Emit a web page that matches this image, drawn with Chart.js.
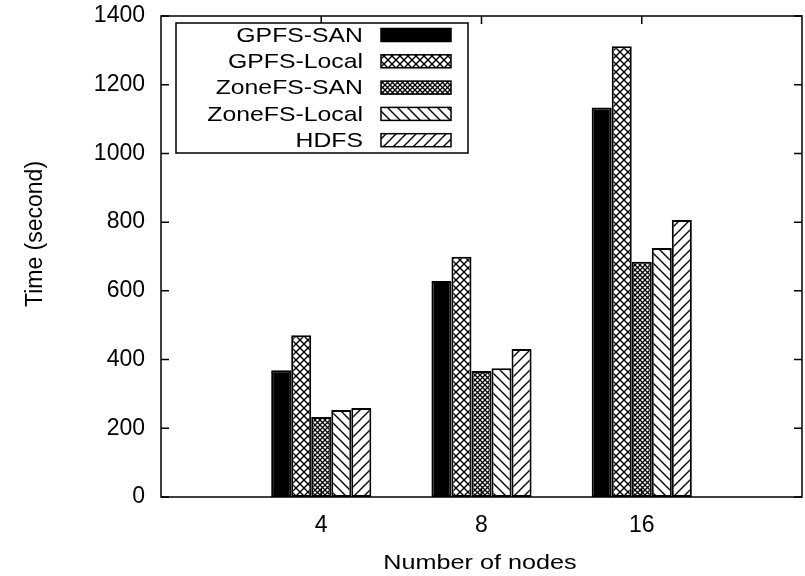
<!DOCTYPE html>
<html>
<head>
<meta charset="utf-8">
<script src="https://cdn.jsdelivr.net/npm/chart.js@4/dist/chart.umd.min.js"></script>
<style>
  html, body { margin: 0; padding: 0; background: #fff; }
  #wrap { width: 805px; height: 576px; }
</style>
</head>
<body>
<div id="wrap"><canvas id="timeChart" width="805" height="576"></canvas></div>
<script>
// node counts (empty slots pad the axis on both sides, like gnuplot)
const nodeLabels = ["", "4", "8", "16", ""];
const seriesNames = ["GPFS-SAN", "GPFS-Local", "ZoneFS-SAN", "ZoneFS-Local", "HDFS"];
const gpfsSan = [null, 369, 629, 1134, null];
const gpfsLocal = [null, 471, 699, 1312, null];
const zonefsSan = [null, 233, 367, 685, null];
const zonefsLocal = [null, 253, 375, 725, null];
const hdfs = [null, 259, 431, 806, null];
const yTicks = [0, 200, 400, 600, 800, 1000, 1200, 1400];
const xTitle = "Number of nodes";
const yTitle = "Time (second)";

const FONT = "'Liberation Sans', Arial, Helvetica, sans-serif";

// fill patterns roughly like the gnuplot ones
function makePattern(kind) {
    const c = document.createElement("canvas");
    const s = kind === "dense" ? 5 : (kind === "cross" ? 8 : 10);
    c.width = s; c.height = s;
    const g = c.getContext("2d");
    g.fillStyle = "#fff";
    g.fillRect(0, 0, s, s);
    g.strokeStyle = "#000";
    g.lineWidth = kind === "dense" ? 1.3 : 1.4;
    g.beginPath();
    if (kind === "cross" || kind === "dense") {
        g.moveTo(0, 0); g.lineTo(s, s);
        g.moveTo(s, 0); g.lineTo(0, s);
    } else if (kind === "back") {
        g.moveTo(-1, -1); g.lineTo(s + 1, s + 1);
        g.moveTo(-1, s - 1); g.lineTo(1, s + 1);
        g.moveTo(s - 1, -1); g.lineTo(s + 1, 1);
    } else {
        g.moveTo(-1, s + 1); g.lineTo(s + 1, -1);
        g.moveTo(-1, 1); g.lineTo(1, -1);
        g.moveTo(s - 1, s + 1); g.lineTo(s + 1, s - 1);
    }
    g.stroke();
    return g.createPattern(c, "repeat");
}

const fills = ["#000", makePattern("cross"), makePattern("dense"), makePattern("back"), makePattern("fwd")];
const seriesData = [gpfsSan, gpfsLocal, zonefsSan, zonefsLocal, hdfs];

// draw text a bit wider, the reference looks horizontally stretched
function wideText(ctx, text, x, y, sx) {
    ctx.save();
    ctx.translate(x, y);
    ctx.scale(sx, 1);
    ctx.fillText(text, 0, 0);
    ctx.restore();
}

// frame, inward ticks, axis titles and the boxed legend
const gnuplotFrame = {
    id: "gnuplotFrame",
    afterDraw(chart) {
        const ctx = chart.ctx;
        const a = chart.chartArea;
        const xs = chart.scales.x, ys = chart.scales.y;
        ctx.save();
        ctx.strokeStyle = "#000";
        ctx.lineWidth = 1.5;
        ctx.strokeRect(a.left, a.top, a.right - a.left, a.bottom - a.top);
        ctx.beginPath();
        yTicks.forEach(v => {
            const y = ys.getPixelForValue(v);
            ctx.moveTo(a.left, y); ctx.lineTo(a.left + 8, y);
            ctx.moveTo(a.right, y); ctx.lineTo(a.right - 8, y);
        });
        [1, 2, 3].forEach(i => {
            const x = xs.getPixelForValue(i);
            ctx.moveTo(x, a.bottom); ctx.lineTo(x, a.bottom - 8);
            ctx.moveTo(x, a.top); ctx.lineTo(x, a.top + 8);
        });
        ctx.stroke();

        // axis titles
        ctx.fillStyle = "#000";
        ctx.textAlign = "center";
        ctx.textBaseline = "middle";
        ctx.font = "21px " + FONT;
        wideText(ctx, xTitle, 480, 563, 1.2);
        ctx.save();
        ctx.translate(36, 234);
        ctx.rotate(-Math.PI / 2);
        ctx.font = "23px " + FONT;
        ctx.fillText(yTitle, 0, 0);
        ctx.restore();

        // legend box
        ctx.fillStyle = "#fff";
        ctx.fillRect(176, 23, 292, 130);
        ctx.strokeRect(176, 23, 292, 130);
        ctx.font = "21px " + FONT;
        ctx.textAlign = "right";
        seriesNames.forEach((name, i) => {
            const y = 35 + i * 26.3;
            ctx.fillStyle = "#000";
            wideText(ctx, name, 363, y + 1, 1.18);
            ctx.fillStyle = fills[i];
            ctx.fillRect(381, y - 6.5, 70, 13);
            ctx.strokeRect(381, y - 6.5, 70, 13);
        });
        ctx.restore();
    }
};

const ctx = document.getElementById("timeChart").getContext("2d");
new Chart(ctx, {
    type: "bar",
    data: {
        labels: nodeLabels,
        datasets: seriesNames.map((name, i) => ({
            label: name,
            data: seriesData[i],
            backgroundColor: fills[i],
            borderColor: "#000",
            borderWidth: 2,
            borderSkipped: false,
            barPercentage: 1,
            categoryPercentage: 0.625
        }))
    },
    options: {
        responsive: false,
        animation: false,
        layout: { padding: { left: 0, top: 16, right: 3, bottom: 0 } },
        plugins: {
            legend: { display: false },
            tooltip: { enabled: false }
        },
        scales: {
            x: {
                offset: false,
                grid: { display: false, drawTicks: false },
                border: { display: false },
                ticks: {
                    color: "#000",
                    padding: 15,
                    maxRotation: 0,
                    autoSkip: false,
                    font: { family: FONT, size: 23 }
                },
                afterFit(scale) {
                    scale.height = 79;
                    scale.paddingLeft = 0;
                    scale.paddingRight = 0;
                }
            },
            y: {
                min: 0,
                max: 1400,
                grid: { display: false, drawTicks: false },
                border: { display: false },
                ticks: {
                    stepSize: 200,
                    color: "#000",
                    padding: 16,
                    font: { family: FONT, size: 23 },
                    callback: v => String(v)
                },
                afterFit(scale) {
                    scale.width = 161;
                    scale.paddingTop = 0;
                    scale.paddingBottom = 0;
                }
            }
        }
    },
    plugins: [gnuplotFrame]
});
</script>
</body>
</html>
